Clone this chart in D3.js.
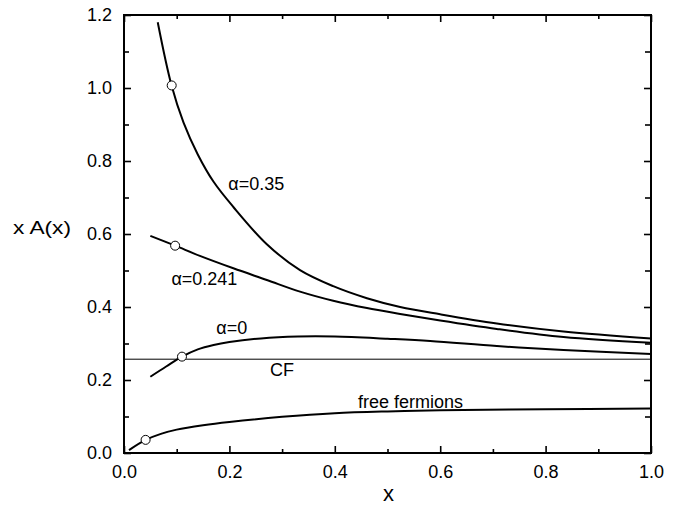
<!DOCTYPE html>
<html>
<head>
<meta charset="utf-8">
<script src="https://cdn.jsdelivr.net/npm/d3@7"></script>
<style>
  body { margin: 0; background: #fff; }
  text { font-family: "Liberation Sans", Arial, sans-serif; fill: #000; }
</style>
</head>
<body>
<div id="chart"></div>
<script>
// chart values
let alpha035 = [[0.064, 1.18], [0.09, 1.008], [0.113, 0.905], [0.14, 0.818], [0.17, 0.743],
    [0.2075, 0.674], [0.271, 0.572], [0.334, 0.501], [0.397, 0.457], [0.461, 0.424],
    [0.524, 0.400], [0.6, 0.380], [0.7075, 0.355], [0.834, 0.333], [1.0, 0.314]];
let alpha0241 = [[0.05, 0.595], [0.097, 0.568], [0.144, 0.540], [0.2075, 0.506], [0.271, 0.474],
    [0.334, 0.442], [0.397, 0.417], [0.461, 0.397], [0.524, 0.381], [0.6, 0.363],
    [0.7075, 0.340], [0.834, 0.318], [1.0, 0.302]];
let alpha0 = [[0.05, 0.209], [0.08, 0.237], [0.11, 0.264], [0.14, 0.284], [0.17, 0.296],
    [0.2, 0.304], [0.26, 0.314], [0.33, 0.319], [0.4, 0.319], [0.5, 0.313], [0.581, 0.307],
    [0.7075, 0.293], [0.834, 0.282], [1.0, 0.271]];
let freeFermions = [[0.0095, 0.008], [0.041, 0.036], [0.07, 0.0525], [0.1, 0.064], [0.15, 0.076],
    [0.2, 0.085], [0.3, 0.099], [0.4, 0.109], [0.5, 0.114], [0.6, 0.117], [0.8, 0.120], [1.0, 0.122]];
let markers = [[0.0905, 1.007], [0.097, 0.568], [0.11, 0.264], [0.041, 0.036]];
let cfValue = 0.257;
let xTicks = [0.0, 0.2, 0.4, 0.6, 0.8, 1.0];
let yTicks = [0.0, 0.2, 0.4, 0.6, 0.8, 1.0, 1.2];
let curveLabels = [
    {text: "\u03b1=0.35", x: 0.198, y: 0.72},
    {text: "\u03b1=0.241", x: 0.09, y: 0.46},
    {text: "\u03b1=0", x: 0.175, y: 0.325},
    {text: "CF", x: 0.277, y: 0.211},
    {text: "free fermions", x: 0.444, y: 0.124}
];

const width = 682, height = 505;
let margin = {left: 124, top: 15, right: 31, bottom: 52};

let svg = d3.select("#chart")
    .append("svg")
    .attr("width", width)
    .attr("height", height);

let x = d3.scaleLinear().domain([0, 1]).range([margin.left, width - margin.right]);
let y = d3.scaleLinear().domain([0, 1.2]).range([height - margin.bottom, margin.top]);

let minorX = d3.range(0.1, 1.0, 0.2);
let minorY = d3.range(0.1, 1.2, 0.2);

// ticks, pointing inward on all four sides
function tickAxis(axisFn, scale, values, size, labels) {
    return axisFn(scale).tickValues(values).tickSizeInner(-size).tickSizeOuter(0)
        .tickFormat(labels ? d3.format(".1f") : "");
}
let axBottom = svg.append("g").attr("transform", `translate(0, ${y(0)})`);
axBottom.call(tickAxis(d3.axisBottom, x, xTicks, 7, true).tickPadding(12));
axBottom.append("g").call(tickAxis(d3.axisBottom, x, minorX, 4, false));
let axTop = svg.append("g").attr("transform", `translate(0, ${y(1.2)})`);
axTop.call(tickAxis(d3.axisTop, x, xTicks, 7, false));
axTop.append("g").call(tickAxis(d3.axisTop, x, minorX, 4, false));
let axLeft = svg.append("g").attr("transform", `translate(${x(0)}, 0)`);
axLeft.call(tickAxis(d3.axisLeft, y, yTicks, 7, true).tickPadding(12));
axLeft.append("g").call(tickAxis(d3.axisLeft, y, minorY, 5, false));
let axRight = svg.append("g").attr("transform", `translate(${x(1)}, 0)`);
axRight.call(tickAxis(d3.axisRight, y, yTicks, 7, false));
axRight.append("g").call(tickAxis(d3.axisRight, y, minorY, 6, false));

svg.selectAll(".domain").remove();
svg.selectAll(".tick line").attr("stroke", "#000").attr("stroke-width", 1.6);
svg.selectAll(".tick text").style("font-size", "18px").style("font-family", "'Liberation Sans', Arial, sans-serif");

// frame
svg.append("rect")
    .attr("x", x(0)).attr("y", y(1.2))
    .attr("width", x(1) - x(0)).attr("height", y(0) - y(1.2))
    .attr("fill", "none").attr("stroke", "#000").attr("stroke-width", 2);

// CF line
svg.append("line")
    .attr("x1", x(0)).attr("x2", x(1))
    .attr("y1", y(cfValue)).attr("y2", y(cfValue))
    .attr("stroke", "#000").attr("stroke-width", 1);

// curves
let line = d3.line().x(d => x(d[0])).y(d => y(d[1])).curve(d3.curveCatmullRom.alpha(0.5));
[alpha035, alpha0241, alpha0, freeFermions].forEach(function(series) {
    svg.append("path")
        .datum(series)
        .attr("d", line)
        .attr("fill", "none")
        .attr("stroke", "#000")
        .attr("stroke-width", 2);
});

// open circles
svg.selectAll("circle").data(markers).enter()
    .append("circle")
    .attr("cx", d => x(d[0]))
    .attr("cy", d => y(d[1]))
    .attr("r", 4.5)
    .attr("fill", "#fff")
    .attr("stroke", "#000")
    .attr("stroke-width", 1);

// curve labels
svg.selectAll(".clabel").data(curveLabels).enter()
    .append("text")
    .attr("class", "clabel")
    .attr("x", d => x(d.x))
    .attr("y", d => y(d.y))
    .style("font-size", "18px")
    .text(d => d.text);

// axis titles
svg.append("text")
    .attr("x", 13).attr("y", 234)
    .attr("textLength", 58)
    .attr("lengthAdjust", "spacingAndGlyphs")
    .style("font-size", "18px")
    .text("x A(x)");
svg.append("text")
    .attr("x", 388.5).attr("y", 500.5)
    .style("text-anchor", "middle")
    .style("font-size", "22px")
    .text("x");
</script>
</body>
</html>
